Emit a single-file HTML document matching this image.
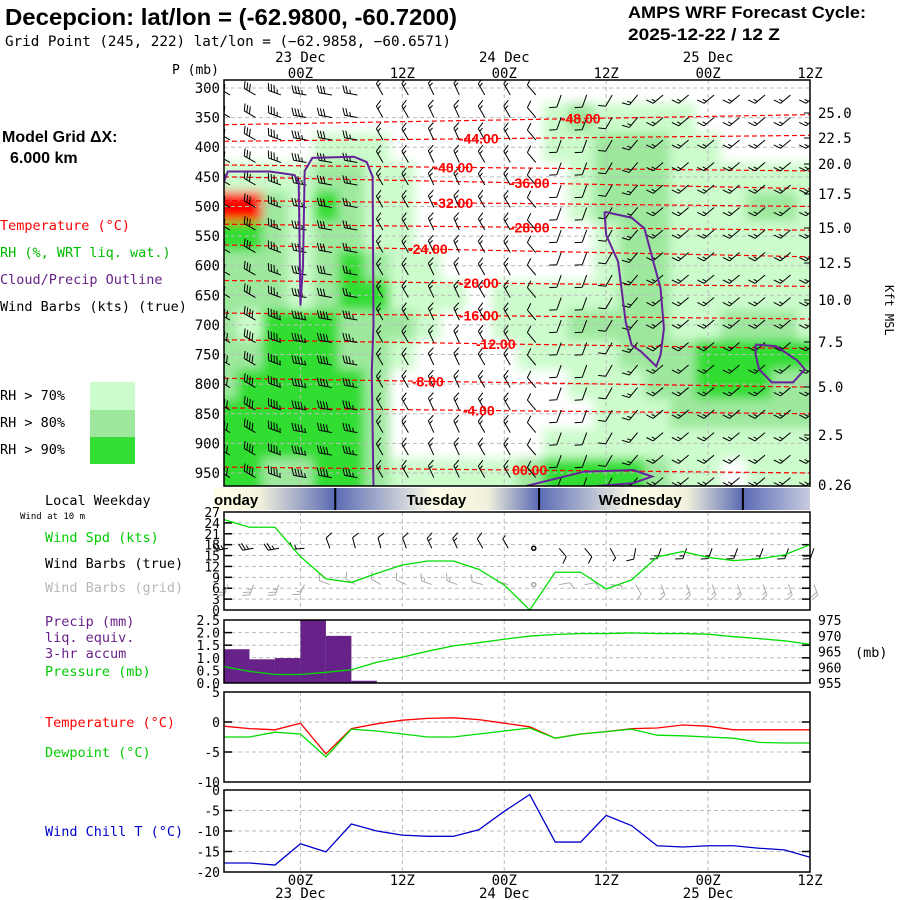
<!DOCTYPE html>
<html><head><meta charset="utf-8"><title>AMPS Meteogram Decepcion</title>
<style>
html,body{margin:0;padding:0;background:#fff;}
svg{display:block;}
.m{font-family:"DejaVu Sans Mono","Liberation Mono",monospace;}
.b{font-family:"Liberation Sans",sans-serif;font-weight:bold;}
</style></head>
<body>
<svg id="chart" width="900" height="900" viewBox="0 0 900 900" xmlns="http://www.w3.org/2000/svg">
<defs>
<clipPath id="csclip"><rect x="224" y="80" width="586" height="406"/></clipPath>
<filter id="soft" x="-5%" y="-5%" width="110%" height="110%"><feGaussianBlur stdDeviation="5"/></filter>
<linearGradient id="daygrad" x1="224" y1="0" x2="810" y2="0" gradientUnits="userSpaceOnUse">
<stop offset="0" stop-color="#ffffe8"/><stop offset="0.06" stop-color="#f2f2dc"/><stop offset="0.189" stop-color="#5a6ab4"/>
<stop offset="0.36" stop-color="#ffffe8"/><stop offset="0.45" stop-color="#f0f0dc"/><stop offset="0.537" stop-color="#5a6ab4"/>
<stop offset="0.70" stop-color="#ffffe8"/><stop offset="0.79" stop-color="#f0f0dc"/><stop offset="0.885" stop-color="#5a6ab4"/>
<stop offset="1" stop-color="#c8cce0"/>
</linearGradient>
</defs>

<text class="b" x="5" y="25" font-size="23" textLength="452" lengthAdjust="spacingAndGlyphs">Decepcion:  lat/lon = (-62.9800, -60.7200)</text>
<text class="m" x="5" y="46" font-size="14" textLength="446" lengthAdjust="spacingAndGlyphs">Grid Point (245, 222) lat/lon = (−62.9858, −60.6571)</text>
<text class="b" x="628" y="18" font-size="17" textLength="238" lengthAdjust="spacingAndGlyphs">AMPS WRF Forecast Cycle:</text>
<text class="b" x="628" y="40" font-size="17" textLength="152" lengthAdjust="spacingAndGlyphs">2025-12-22 / 12  Z</text>

<g class="m" font-size="13.5">
<text class="b" x="2" y="142" font-size="16">Model Grid ΔX:</text>
<text class="b" x="10" y="163" font-size="16">6.000 km</text>
<text x="0" y="230" fill="#ff0000">Temperature (°C)</text>
<text x="0" y="257" fill="#00bb00">RH (%, WRT liq. wat.)</text>
<text x="0" y="284" fill="#662288">Cloud/Precip Outline</text>
<text x="0" y="311" fill="#000">Wind Barbs (kts) (true)</text>
<text x="0" y="400">RH &gt; 70%</text>
<text x="0" y="427">RH &gt; 80%</text>
<text x="0" y="454">RH &gt; 90%</text>
<text x="45" y="542" fill="#00cc00">Wind Spd (kts)</text>
<text x="45" y="568" fill="#000">Wind Barbs (true)</text>
<text x="45" y="592" fill="#b8b8b8">Wind Barbs (grid)</text>
<text x="45" y="626" fill="#662288">Precip (mm)</text>
<text x="45" y="642" fill="#662288">liq. equiv.</text>
<text x="45" y="658" fill="#662288">3-hr accum</text>
<text x="45" y="676" fill="#00cc00">Pressure (mb)</text>
<text x="45" y="727" fill="#ff0000">Temperature (°C)</text>
<text x="45" y="757" fill="#00cc00">Dewpoint (°C)</text>
<text x="45" y="836" fill="#0000cc">Wind Chill T (°C)</text>
<text x="855" y="657">(mb)</text>
</g>
<rect x="90" y="382" width="45" height="28" fill="#ccfccc"/>
<rect x="90" y="410" width="45" height="27" fill="#9ee89e"/>
<rect x="90" y="437" width="45" height="27" fill="#33dd33"/>

<g id="cs"></g>
<g id="panels"></g>

<text class="m" x="885" y="285" font-size="12" transform="rotate(90 885 285)">Kft MSL</text>
</svg>

<script>
const times = [0,3,6,9,12,15,18,21,24,27,30,33,36,39,42,45,48,51,54,57,60,63,66,69];
const windSpd = [24.9,22.8,22.8,14.7,8.6,7.6,10.1,12.4,13.5,13.5,11.2,6.9,0,10.4,10.4,5.8,8.3,14.6,16.1,14.5,13.6,14.1,15.2,18];
const windDir = [260,260,260,265,340,345,345,340,335,335,330,330,0,140,140,150,190,200,200,200,200,200,200,200];
const gridDir = [200,200,200,205,290,300,300,295,290,290,285,285,0,80,80,95,150,160,160,160,160,160,160,160];
const pressure = [960.2,958.7,957.7,957.7,958.4,959.2,961.6,963.2,965.1,966.8,967.8,968.9,969.9,970.4,970.7,970.7,970.9,970.7,970.7,970.5,969.7,969.1,968.4,967.3];
const precip = [1.34,0.94,0.99,2.5,1.87,0.09,0,0,0,0,0,0,0,0,0,0,0,0,0,0,0,0,0];
const temp = [-0.7,-1.1,-1.3,-0.2,-5.3,-1.1,-0.3,0.3,0.6,0.7,0.4,-0.2,-0.8,-2.7,-2.0,-1.6,-1.1,-1.0,-0.5,-0.7,-1.3,-1.3,-1.3,-1.3];
const dewp = [-2.5,-2.5,-1.7,-2.0,-5.8,-1.2,-1.5,-2.0,-2.5,-2.5,-2.0,-1.5,-1.0,-2.7,-2.0,-1.6,-1.2,-2.2,-2.3,-2.5,-2.7,-3.4,-3.5,-3.5];
const windChill = [-17.8,-17.8,-18.3,-13.1,-15.1,-8.3,-10,-11,-11.3,-11.3,-9.7,-5.2,-1.1,-12.7,-12.7,-6.2,-8.7,-13.6,-13.9,-13.6,-13.6,-14.2,-14.6,-16.4];

const levels = [300,350,400,450,500,550,600,650,700,750,800,850,900,950];
const rhCat = [
[0,0,0,1,4,3,2,2,2,2,2,3,3,3],
[0,0,0,1,4,3,2,2,1,2,3,3,3,3],
[0,0,0,1,2,2,2,2,3,3,3,3,3,2],
[0,0,0,1,1,1,1,1,3,3,3,3,3,2],
[0,0,1,2,3,2,2,2,3,3,3,3,3,3],
[0,0,1,2,2,2,3,3,2,2,3,3,3,3],
[0,0,1,1,1,1,2,3,2,2,2,2,2,2],
[0,0,0,1,1,1,1,1,2,1,0,0,0,1],
[0,0,0,0,0,0,1,1,1,0,0,0,0,1],
[0,0,0,0,0,0,0,1,0,0,0,0,0,1],
[0,0,0,0,0,0,0,0,0,0,0,0,0,1],
[0,0,0,0,0,0,0,1,1,0,0,0,0,1],
[0,0,0,0,0,0,0,1,1,1,0,0,0,2],
[0,1,1,0,0,0,0,1,1,1,0,0,1,3],
[0,2,1,1,1,0,0,1,2,1,1,0,1,3],
[0,1,2,2,2,1,1,1,2,1,1,1,1,3],
[0,1,2,2,2,2,2,2,2,2,1,1,1,3],
[0,1,2,2,2,2,2,2,2,2,2,1,1,2],
[0,1,1,1,1,1,1,1,1,2,2,2,1,1],
[0,0,1,1,1,1,1,1,1,3,3,2,1,1],
[0,0,0,1,1,1,1,1,2,3,3,2,1,0],
[0,0,0,1,2,1,1,1,2,3,3,2,1,1],
[0,0,0,1,2,1,1,1,2,3,2,2,1,1],
[0,0,0,1,1,1,1,1,1,3,2,2,1,1]];

const isoT = [-48,-44,-40,-36,-32,-28,-24,-20,-16,-12,-8,-4,0];
const isoPStart = [362,390,430,450,490,530,565,625,680,725,790,840,940];
const isoPEnd = [345,380,440,470,500,540,585,635,690,740,805,850,950];
const isoLabelT = [42,30,27,36,27,36,24,30,30,32,24,30,36];

const csDir = [300,300,290,280,280,280,330,330,335,335,330,330,320,200,200,210,220,230,230,230,230,230,230,230];
const csSpd = [30,30,35,35,30,25,15,15,15,15,15,15,10,10,10,10,15,15,15,15,15,15,15,15];
const barbLevels = [305,343,381,419,457,495,533,571,609,647,685,723,761,799,837,875,913,951];

const outlineA = [[0,458],[0.45,441],[5.4,441],[8.3,447],[8.8,460],[9.0,667],[9.3,600],[9.5,440],[10.4,418],[15.3,416],[16.8,425],[17.5,450],[17.6,700],[17.4,780],[17.6,972]];
const outlineB = [[44.8,509],[48,519],[49.5,537],[51.4,638],[51.8,706],[51.4,751],[50.9,770],[49.1,745],[48,734],[47.3,695],[46.4,593],[45,548],[44.8,509]];
const outlineC = [[62.6,733],[65,736],[67.5,760],[68.4,775],[67,797],[64.5,797],[63,775],[62.6,750],[62.6,733]];
const outlineD = [[35.6,972],[42.3,948],[48.2,945],[50.4,956],[48.2,967],[44,972]];

const timeTicks = [9,21,33,45,57,69];
const hourLabels = ["00Z","12Z","00Z","12Z","00Z","12Z"];
const dateLabels = ["23 Dec","","24 Dec","","25 Dec",""];
const kftVals = ["25.0","22.5","20.0","17.5","15.0","12.5","10.0","7.5","5.0","2.5","0.26"];
const kftY = [113,138,164,194,228,263,300,342,387,435,485];
const dayNames = ["onday","Tuesday","Wednesday"];
const dayCenterT = [4,25,49];
const dayDividerT = [13.1,37.1,61.1];

const X0=224, X1=810;
const xT = t => X0 + t*(X1-X0)/69;
const yP = p => 88 + (p-300)*0.5923;
const yW = v => 610 - v*98/27;
const yR = v => 683 - v*63/2.5;
const yPr = v => 683 - (v-955)*63/20;
const yT = v => 722 - v*6;
const yC = v => 790 - v*82/20;

const NS="http://www.w3.org/2000/svg";
function el(tag, attrs, parent){const e=document.createElementNS(NS,tag);for(const k in attrs)e.setAttribute(k,attrs[k]);parent.appendChild(e);return e;}
function txt(s, attrs, parent){const e=el('text',attrs,parent);e.textContent=s;return e;}

const cs=document.getElementById('cs');
const pn=document.getElementById('panels');

const rhColors=["none","#ccfccc","#9ee89e","#33dd33","#ff0000"];
const csClip=el('g',{'clip-path':'url(#csclip)'},cs);
const fillG=el('g',{filter:'url(#soft)'},csClip);
el('rect',{x:X0-10,y:70,width:X1-X0+20,height:430,fill:'#fff'},fillG);
for(let i=0;i<times.length;i++){
  for(let j=0;j<levels.length;j++){
    const c=rhCat[i][j]; if(!c) continue;
    const t=times[i];
    const xa=xT(t-1.5)-(i===0?10:0), xb=xT(t+1.5)+(i===times.length-1?10:0);
    const ya=yP(levels[j]-25)-(j===0?12:0), yb=yP(levels[j]+25)+(j===levels.length-1?16:0);
    const r=el('rect',{x:xa,y:ya,width:xb-xa+0.5,height:yb-ya+0.5,fill:rhColors[c]},fillG);
    
    
  }
}
for(const p of levels){ el('line',{x1:X0,x2:X1,y1:yP(p),y2:yP(p),stroke:'#bbb','stroke-dasharray':'4,3','stroke-width':1},csClip); }
for(const t of timeTicks){ el('line',{x1:xT(t),x2:xT(t),y1:80,y2:486,stroke:'#bbb','stroke-dasharray':'4,3'},csClip); }
for(let k=0;k<isoT.length;k++){
  const l=el('line',{x1:X0,x2:X1,y1:yP(isoPStart[k]),y2:yP(isoPEnd[k]),stroke:'#ff0000','stroke-dasharray':'5,3','stroke-width':1.2},csClip);
  
  
}
function barb(g,x,y,dir,spd,color,L){
  L=L||15;
  if(spd<2.5){el('circle',{cx:x,cy:y,r:2,fill:'none',stroke:color,'stroke-width':1.5},g);return;}
  const a=dir*Math.PI/180, ux=Math.sin(a), uy=-Math.cos(a);
  const ex=x+ux*L, ey=y+uy*L;
  let d=`M${x},${y}L${ex},${ey}`;
  let s=Math.round(spd/5)*5, pos=0;
  const px=-uy, py=ux;
  while(s>=10){const bx=ex-ux*pos, by=ey-uy*pos; d+=`M${bx},${by}l${px*7+ux*3},${py*7+uy*3}`; pos+=3; s-=10;}
  if(s>=5){const bx=ex-ux*pos, by=ey-uy*pos; d+=`M${bx},${by}l${px*4+ux*1.5},${py*4+uy*1.5}`;}
  const p=el('path',{d:d,stroke:color,fill:'none','stroke-width':1},g);
  
  
}
const barbG=el('g',{},csClip);
for(let i=0;i<times.length;i++){
  for(let j=0;j<barbLevels.length;j++){
    barb(barbG,xT(times[i])+6,yP(barbLevels[j])+4,csDir[i],csSpd[i]+(barbLevels[j]>650&&i<6?10:0),'#000',13);
  }
}
function poly(pts,parent,name){
  const d=pts.map((q,k)=>(k?'L':'M')+xT(q[0])+','+yP(q[1])).join('');
  const p=el('path',{d:d,fill:'none',stroke:'#662299','stroke-width':2},parent);
  
  
}
poly(outlineA,csClip,'cloud-outline-left');
poly(outlineB,csClip,'cloud-outline-middle');
poly(outlineC,csClip,'cloud-outline-right');
poly(outlineD,csClip,'cloud-outline-bottom');
for(let k=0;k<isoT.length;k++){
  const p=isoPStart[k]+(isoPEnd[k]-isoPStart[k])*isoLabelT[k]/69;
  const lab=txt((isoT[k]===0?'00':isoT[k])+'.00',{x:xT(isoLabelT[k]),y:yP(p)+5,'text-anchor':'middle',fill:'#ff0000','font-family':'Liberation Sans, sans-serif','font-weight':'bold','font-size':14},cs);
  
  
}
el('rect',{x:X0,y:80,width:X1-X0,height:406,fill:'none',stroke:'#000','stroke-width':1.5},cs);
for(const p of levels){
  const l=txt(String(p),{x:220,y:yP(p)+5,'text-anchor':'end','font-size':14,class:'m'},cs);
  
  
}
txt('P (mb)',{x:172,y:74,'font-size':13,class:'m'},cs);
for(let k=0;k<kftVals.length;k++){
  const l=txt(kftVals[k],{x:818,y:kftY[k]+5,'font-size':14,class:'m'},cs);
  
  
  if(k<kftVals.length-1) el('line',{x1:X1-6,x2:X1,y1:kftY[k],y2:kftY[k],stroke:'#000'},cs);
}
for(let k=0;k<timeTicks.length;k++){
  const x=xT(timeTicks[k]);
  const a=txt(hourLabels[k],{x:x,y:78,'text-anchor':'middle','font-size':14,class:'m'},cs);
  
  
  if(dateLabels[k]){const b=txt(dateLabels[k],{x:x,y:62,'text-anchor':'middle','font-size':14,class:'m'},cs);
    
    }
  const c=txt(hourLabels[k],{x:x,y:885,'text-anchor':'middle','font-size':14,class:'m'},pn);
  
  
  if(dateLabels[k]){const d=txt(dateLabels[k],{x:x,y:898,'text-anchor':'middle','font-size':14,class:'m'},pn);
    
    }
}

el('rect',{x:X0-10,y:488,width:X1-X0+10,height:22,fill:'url(#daygrad)'},pn);
el('rect',{x:X1,y:488,width:2,height:22,fill:'#fff'},pn);
for(const t of dayDividerT){el('line',{x1:xT(t),x2:xT(t),y1:488,y2:510,stroke:'#000','stroke-width':2},pn);}
for(let k=0;k<dayNames.length;k++){
  const l=txt(dayNames[k],{x:k===0?214:xT(dayCenterT[k]),y:505,'text-anchor':k===0?'start':'middle','font-family':'Liberation Sans, sans-serif','font-weight':'bold','font-size':15},pn);
  
  
}
el('rect',{x:0,y:486,width:214,height:26,fill:'#fff'},pn);
txt('Local Weekday',{x:45,y:505,'font-size':13.5,class:'m'},pn);
txt('Wind at 10 m',{x:20,y:519,'font-size':9,class:'m'},pn);

function panel(top,bot,gridVals,yf,labels,labelVals,name){
  const g=el('g',{},pn);
  
  
  for(const v of gridVals){const y=yf(v);
    el('line',{x1:X0,x2:X1,y1:y,y2:y,stroke:'#bbb','stroke-dasharray':'4,3'},g);
    el('line',{x1:X0,x2:X0+8,y1:y,y2:y,stroke:'#000','stroke-width':1.5},g);
    el('line',{x1:X1-8,x2:X1,y1:y,y2:y,stroke:'#000','stroke-width':1.5},g);}
  for(const t of timeTicks){el('line',{x1:xT(t),x2:xT(t),y1:top,y2:bot,stroke:'#bbb','stroke-dasharray':'4,3'},g);}
  for(let k=0;k<labels.length;k++){
    const l=txt(labels[k],{x:220,y:yf(labelVals[k])+5,'text-anchor':'end','font-size':13,class:'m'},g);
    
    
  }
  return g;
}
function line(vals,yf,color,parent,name){
  const d=vals.map((v,k)=>(k?'L':'M')+xT(times[k])+','+yf(v)).join('');
  const p=el('path',{d:d,fill:'none',stroke:color,'stroke-width':1.3},parent);
  
  
}
const windTicks=[27,24,21,18,15,12,9,6,3,0];
const gw=panel(512,610,[3,6,9,12,15,18,21,24],yW,windTicks.map(String),windTicks,'wind-panel');
for(let i=0;i<times.length;i++){
  barb(gw,xT(times[i])+4,yW(17),windDir[i],windSpd[i],'#000',11);
  barb(gw,xT(times[i])+4,yW(7),gridDir[i],windSpd[i],'#aaa',11);
}
line(windSpd,yW,'#00dd00',gw,'wind-speed-line');
el('rect',{x:X0,y:512,width:X1-X0,height:98,fill:'none',stroke:'#000','stroke-width':1.5},gw);

const prTicks=[2.5,2.0,1.5,1.0,0.5,0.0];
const gp=panel(620,683,[0.5,1.0,1.5,2.0],yR,prTicks.map(v=>v.toFixed(1)),prTicks,'precip-pressure-panel');
for(let i=0;i<precip.length;i++){
  if(precip[i]<=0) continue;
  const r=el('rect',{x:xT(times[i]),y:yR(precip[i]),width:xT(times[i+1])-xT(times[i]),height:683-yR(precip[i]),fill:'#662288'},gp);
  
  
}
line(pressure,yPr,'#00dd00',gp,'pressure-line');
const prR=[975,970,965,960,955];
for(const v of prR){const l=txt(String(v),{x:818,y:yPr(v)+5,'font-size':13,class:'m'},gp);
  
  }
el('rect',{x:X0,y:620,width:X1-X0,height:63,fill:'none',stroke:'#000','stroke-width':1.5},gp);

const tTicks=[5,0,-5,-10];
const gt=panel(692,782,[0,-5],yT,tTicks.map(String),tTicks,'temperature-panel');
line(temp,yT,'#ff0000',gt,'temperature-line');
line(dewp,yT,'#00dd00',gt,'dewpoint-line');
el('rect',{x:X0,y:692,width:X1-X0,height:90,fill:'none',stroke:'#000','stroke-width':1.5},gt);

const cTicks=[0,-5,-10,-15,-20];
const gc=panel(790,872,[-5,-10,-15],yC,cTicks.map(String),cTicks,'wind-chill-panel');
line(windChill,yC,'#0000cc',gc,'wind-chill-line');
el('rect',{x:X0,y:790,width:X1-X0,height:82,fill:'none',stroke:'#000','stroke-width':1.5},gc);
</script>
</body></html>
